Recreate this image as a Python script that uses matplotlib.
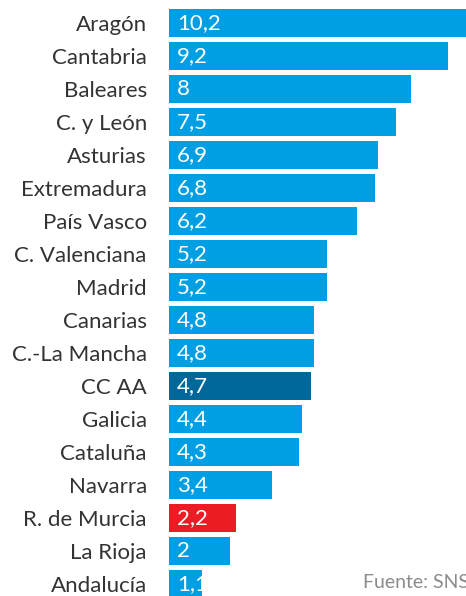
import matplotlib.pyplot as plt

categories = ["Aragón", "Cantabria", "Baleares", "C. y León", "Asturias", "Extremadura",
              "País Vasco", "C. Valenciana", "Madrid", "Canarias", "C.-La Mancha", "CC AA",
              "Galicia", "Cataluña", "Navarra", "R. de Murcia", "La Rioja", "Andalucía"]
values = [10.2, 9.2, 8, 7.5, 6.9, 6.8, 6.2, 5.2, 5.2, 4.8, 4.8, 4.7, 4.4, 4.3, 3.4, 2.2, 2, 1.1]
value_labels = ["10,2", "9,2", "8", "7,5", "6,9", "6,8", "6,2", "5,2", "5,2", "4,8", "4,8", "4,7",
                "4,4", "4,3", "3,4", "2,2", "2", "1,1"]
source = "Fuente: SNS"

BLUE = "#009fe3"
DARK = "#00679b"
RED = "#ec1c24"
colors = [DARK if c == "CC AA" else RED if c == "R. de Murcia" else BLUE for c in categories]

plt.rcParams["font.family"] = ["Lato", "DejaVu Sans"]

W, H = 466, 596
fig = plt.figure(figsize=(W / 100, H / 100), dpi=100)
ax = fig.add_axes([169 / W, 0, 1 - 169 / W, 1])

pos = list(range(len(categories)))
ax.barh(pos, values, height=0.85, color=colors, edgecolor="none")
for p, lab in zip(pos, value_labels):
    ax.text(0.27, p, lab, color="white", fontsize=16, va="center", ha="left")

ax.set_xlim(0, (W - 169) / 30.3)
ax.set_ylim((H - 23) / 33, -23 / 33)
ax.set_yticks(pos)
ax.set_yticklabels(categories, fontsize=16, color="#333333")
ax.tick_params(axis="y", length=0, pad=16)
ax.set_xticks([])
for s in ax.spines.values():
    s.set_visible(False)

fig.text(363 / W, 1 - 583 / H, source, fontsize=14, color="#8c8c8c", va="center", ha="left")

fig.savefig("out.png", dpi=100)
